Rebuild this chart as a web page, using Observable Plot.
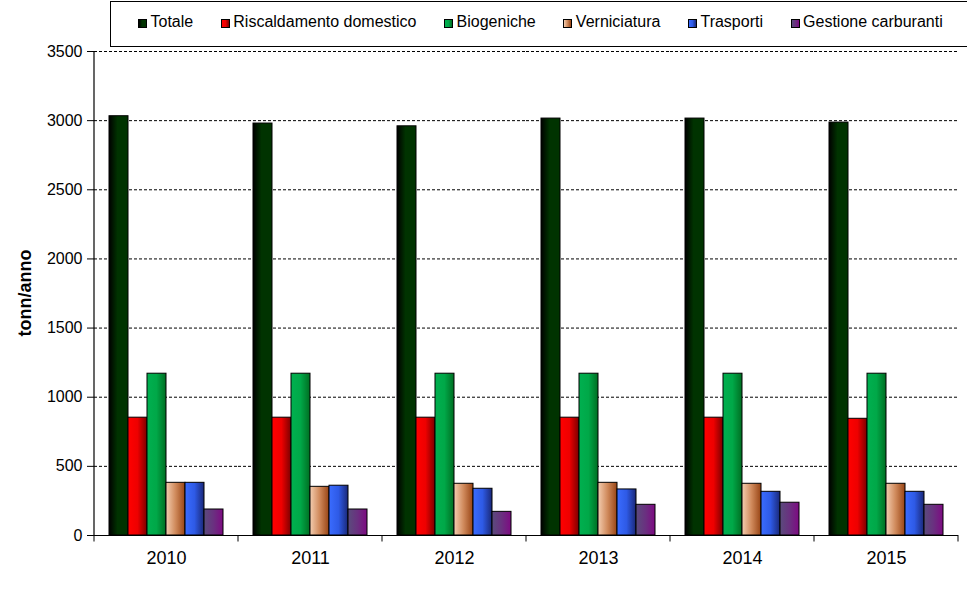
<!DOCTYPE html>
<html>
<head>
<meta charset="utf-8">
<script src="https://cdn.jsdelivr.net/npm/d3@7"></script>
<script src="https://cdn.jsdelivr.net/npm/@observablehq/plot@0.6"></script>
<style>
  body { margin: 0; background: #fff; font-family: "Liberation Sans", Arial, sans-serif; }
  #wrap { position: relative; width: 967px; height: 589px; overflow: hidden; }
  #legendbox { position: absolute; left: 110px; top: 1px; width: 880px; height: 46px; border: 1px solid #000; box-sizing: border-box; background: #fff; }
  #legend { position: absolute; left: 138px; top: 0; height: 44px; display: flex; align-items: center; font-size: 16px; color: #000; white-space: nowrap; }
  .item { display: flex; align-items: center; margin-right: 27.6px; }
  .sw { width: 7px; height: 7px; border: 0.5px solid #000; margin-right: 3.5px; position: relative; top: 1px; }
</style>
</head>
<body>
<div id="wrap">
  <div id="chart"></div>
  <div id="legendbox"></div>
  <div id="legend"></div>
</div>
<script>
// ---- data ----
const years = ["2010", "2011", "2012", "2013", "2014", "2015"];
const series = ["Totale", "Riscaldamento domestico", "Biogeniche", "Verniciatura", "Trasporti", "Gestione carburanti"];
const totale        = [3032, 2979, 2959, 3015, 3015, 2986];
const riscaldamento = [852, 852, 852, 852, 852, 844];
const biogeniche    = [1170, 1170, 1170, 1170, 1170, 1170];
const verniciatura  = [381, 352, 374, 381, 374, 374];
const trasporti     = [381, 360, 338, 333, 316, 316];
const gestione      = [188, 188, 171, 222, 237, 222];
const yTicks = [0, 500, 1000, 1500, 2000, 2500, 3000, 3500];
const yLabel = "tonn/anno";

// ---- styles ----
const gradients = [
  [["0%", "#000000"], ["45%", "#003300"], ["100%", "#003300"]],
  [["0%", "#ff0000"], ["50%", "#ee0000"], ["100%", "#7a0000"]],
  [["0%", "#00b050"], ["50%", "#00a848"], ["100%", "#006e22"]],
  [["0%", "#f3cdb0"], ["50%", "#d08a5c"], ["100%", "#984414"]],
  [["0%", "#3a6cff"], ["50%", "#2e5ae6"], ["100%", "#1a2878"]],
  [["0%", "#5a4c7c"], ["50%", "#6a3080"], ["100%", "#7e0a82"]]
];
const gradIds = series.map((s, i) => `grad${i}`);

const values = [totale, riscaldamento, biogeniche, verniciatura, trasporti, gestione];
const data = years.flatMap((year, i) => series.map((s, j) => ({year, series: s, value: values[j][i]})));

const chart = Plot.plot({
  width: 967,
  height: 589,
  marginLeft: 94,
  marginRight: 9,
  marginTop: 51,
  marginBottom: 54,
  style: {fontFamily: "'Liberation Sans', Arial, sans-serif", fontSize: "16px", color: "#000", background: "#fff", overflow: "visible"},
  fx: {domain: years, padding: 0, label: null},
  x: {domain: series, paddingInner: 0, paddingOuter: 0.75, axis: null},
  y: {domain: [0, 3500], label: null},
  color: {domain: series, range: gradIds.map(id => `url(#${id})`)},
  marks: [
    Plot.gridY(yTicks.filter(d => d > 0), {stroke: "#000", strokeOpacity: 1, strokeWidth: 1, strokeDasharray: "3,2"}),
    Plot.barY(data, {fx: "year", x: "series", y: "value", fill: "series", stroke: "#000", strokeWidth: 1}),
    Plot.ruleY([0], {stroke: "#000", strokeWidth: 1}),
    Plot.axisY(yTicks, {tickSize: 7, tickPadding: 5, fontSize: 16, label: null, stroke: "#000", tickFormat: d => String(d)}),
    Plot.axisFx({anchor: "bottom", fontSize: 18, tickSize: 0, tickPadding: 16, label: null})
  ]
});

// gradients
const svg = d3.select(chart);
const defs = svg.insert("defs", ":first-child");
gradients.forEach((stops, i) => {
  const g = defs.append("linearGradient").attr("id", gradIds[i]).attr("x1", "0%").attr("x2", "100%").attr("y1", "0%").attr("y2", "0%");
  stops.forEach(([o, c]) => g.append("stop").attr("offset", o).attr("stop-color", c));
});

// axis lines and group boundary ticks, from Plot's own scales
const fx = chart.scale("fx");
const y = chart.scale("y");
const y0 = y.apply(0), yTop = y.apply(3500);
const left = fx.apply(years[0]);
svg.append("line").attr("x1", left).attr("x2", left).attr("y1", yTop).attr("y2", y0).attr("stroke", "#000").attr("stroke-width", 1.2);
const bounds = years.map(yr => fx.apply(yr)).concat([fx.apply(years[years.length - 1]) + fx.bandwidth]);
bounds.forEach(bx => {
  svg.append("line").attr("x1", bx).attr("x2", bx).attr("y1", y0).attr("y2", y0 + 6.5).attr("stroke", "#000").attr("stroke-width", 1);
});
// y label
svg.append("text")
  .attr("transform", `translate(31,${(y0 + yTop) / 2}) rotate(-90)`)
  .attr("text-anchor", "middle")
  .attr("font-size", 18)
  .attr("font-weight", "bold")
  .attr("fill", "#000")
  .text(yLabel);

document.getElementById("chart").appendChild(chart);

// legend
const legend = d3.select("#legend");
series.forEach((s, i) => {
  const it = legend.append("div").attr("class", "item");
  const stops = gradients[i].map(([o, c]) => `${c} ${o}`).join(", ");
  it.append("div").attr("class", "sw").style("background", `linear-gradient(to right, ${stops})`);
  it.append("span").text(s);
});
</script>
</body>
</html>
